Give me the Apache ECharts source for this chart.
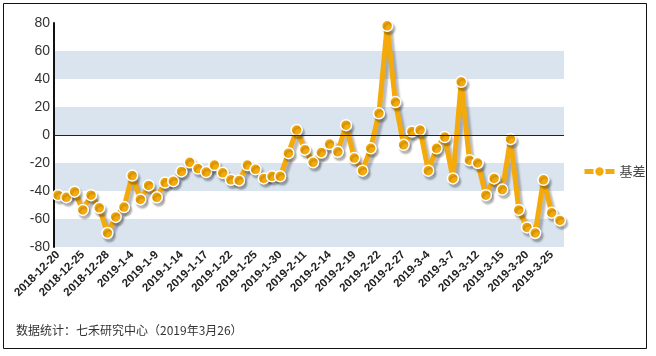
<!DOCTYPE html>
<html><head><meta charset="utf-8">
<script src="https://cdn.jsdelivr.net/npm/echarts@6/dist/echarts.min.js"></script>
<style>html,body{margin:0;padding:0;background:#fff}#c{width:656px;height:356px}</style>
</head><body><div id="c"></div>
<script>
var categories = ['2018-12-20','2018-12-21','2018-12-24','2018-12-25','2018-12-26','2018-12-27','2018-12-28',
'2019-1-2','2019-1-3','2019-1-4','2019-1-7','2019-1-8','2019-1-9','2019-1-10','2019-1-11','2019-1-14',
'2019-1-15','2019-1-16','2019-1-17','2019-1-18','2019-1-21','2019-1-22','2019-1-23','2019-1-24','2019-1-25',
'2019-1-28','2019-1-29','2019-1-30','2019-1-31','2019-2-1','2019-2-11','2019-2-12','2019-2-13','2019-2-14',
'2019-2-15','2019-2-18','2019-2-19','2019-2-20','2019-2-21','2019-2-22','2019-2-25','2019-2-26','2019-2-27',
'2019-2-28','2019-3-1','2019-3-4','2019-3-5','2019-3-6','2019-3-7','2019-3-8','2019-3-11','2019-3-12',
'2019-3-13','2019-3-14','2019-3-15','2019-3-18','2019-3-19','2019-3-20','2019-3-21','2019-3-22','2019-3-25','2019-3-26'];
var basisValues = [-43,-44.5,-40.5,-53.5,-43,-52,-70,-58.5,-51.5,-29,-46,-36,-44.5,-34,-33,-26,
-19.5,-24,-26.5,-21.5,-27,-32,-32.5,-21.5,-24.5,-31,-29.5,-29.5,-13,3.5,-10.5,-19.5,-12.5,-6.5,-12,7,
-16.5,-25.5,-9.5,15.5,78,23.5,-7,2.5,3.5,-25.5,-9.5,-1.5,-31,38,-18,-20,-43,-31,-39,-3,-53.5,-66,-70,-32,-55.5,-61];
var yTicks = {min:-80, max:80, interval:20};
var seriesName = '基差';
var footnote = '数据统计：七禾研究中心（2019年3月26）';

var chart = echarts.init(document.getElementById('c'), null, {renderer:'canvas'});
chart.setOption({
  animation:false,
  backgroundColor:'#fff',
  textStyle:{fontFamily:'Liberation Sans, Arial, sans-serif'},
  grid:{left:54,right:92,top:23,bottom:109,containLabel:false},
  legend:{
    data:[seriesName], orient:'vertical', left:577, top:160,
    itemWidth:30, itemHeight:13, itemGap:6,
    lineStyle:{width:5},
    textStyle:{fontSize:13,color:'#444', fontFamily:'Noto Sans CJK SC, sans-serif'}
  },
  xAxis:{
    type:'category', data:categories, boundaryGap:true,
    axisLine:{show:false}, axisTick:{show:false},
    axisLabel:{interval:2, rotate:45, fontSize:11.5, fontWeight:'bold', color:'#222', margin:6},
    splitLine:{show:false}
  },
  yAxis:{
    type:'value', min:yTicks.min, max:yTicks.max, interval:yTicks.interval,
    axisLine:{show:true, lineStyle:{color:'#111', width:2}},
    axisTick:{show:false},
    axisLabel:{fontSize:14, color:'#333', margin:4},
    splitLine:{show:false},
    splitArea:{show:true, areaStyle:{color:['#d9e4ef','#ffffff']}}
  },
  graphic:[
    {type:'rect', shape:{x:3.5,y:3.5,width:643,height:345}, style:{fill:null, stroke:'#111', lineWidth:1}, silent:true},
    {type:'text', left:16, top:324, style:{text:footnote, fontSize:12, fill:'#333', fontFamily:'Noto Sans CJK SC, sans-serif'}}
  ],
  series:[{
    name:seriesName, type:'line', data:basisValues,
    symbol:'circle', symbolSize:11, showAllSymbol:true,
    itemStyle:{color:'#f5aa0c', borderColor:'#fff', borderWidth:1.5,
      shadowColor:'rgba(0,0,0,0.25)', shadowBlur:2, shadowOffsetX:2, shadowOffsetY:3},
    lineStyle:{color:'#f5aa0c', width:5,
      shadowColor:'rgba(60,60,70,0.35)', shadowBlur:2, shadowOffsetX:3, shadowOffsetY:4},
    markLine:{silent:true, symbol:'none', label:{show:false},
      lineStyle:{color:'#222', width:1, type:'solid'}, data:[{yAxis:0}]},
    z:3
  }]
});
</script></body></html>
